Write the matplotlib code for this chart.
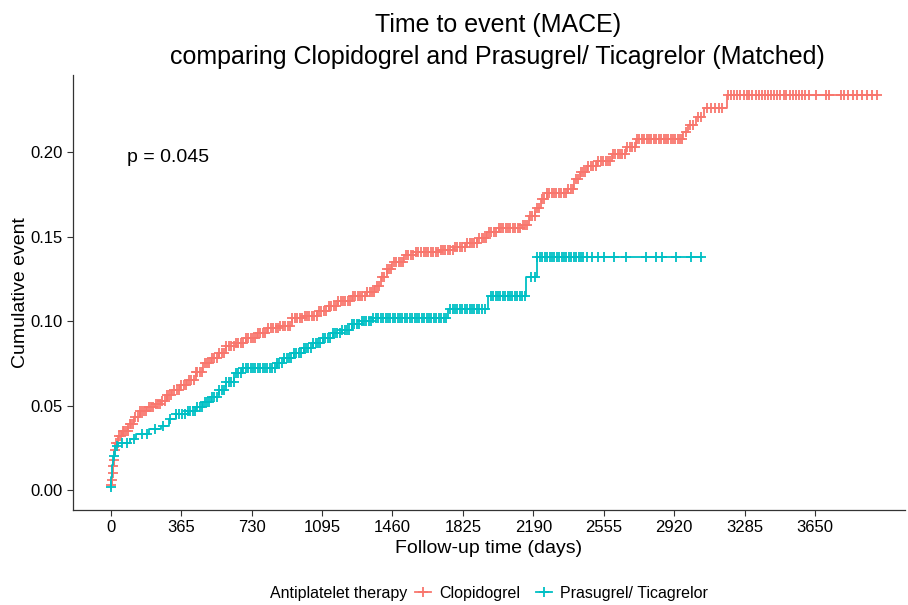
import numpy as np
import matplotlib
matplotlib.use('Agg')
import matplotlib.pyplot as plt
from matplotlib.lines import Line2D

plt.rcParams['font.family'] = ['Liberation Sans', 'DejaVu Sans']

### data (days, cumulative event)

clop_time = [0, 5, 8, 12, 16, 20, 25, 40, 60, 90, 120, 150, 190, 230, 260, 290, 320,
             360, 395, 440, 480, 520, 560, 600, 650, 700, 760, 810, 880, 940, 1000,
             1070, 1130, 1180, 1250, 1330, 1370, 1400, 1430, 1460, 1520, 1580, 1700,
             1780, 1840, 1900, 1950, 2010, 2130, 2170, 2200, 2230, 2260, 2370, 2400,
             2430, 2470, 2520, 2600, 2670, 2720, 2965, 2990, 3035, 3075, 3195, 3972]
clop_cum = [0.003, 0.006, 0.010, 0.014, 0.018, 0.024, 0.028, 0.032, 0.035, 0.039, 0.043,
            0.047, 0.049, 0.051, 0.053, 0.056, 0.059, 0.062, 0.065, 0.070, 0.075, 0.078,
            0.081, 0.085, 0.087, 0.090, 0.093, 0.096, 0.097, 0.102, 0.103, 0.106, 0.109,
            0.112, 0.115, 0.117, 0.121, 0.126, 0.131, 0.135, 0.139, 0.141, 0.142, 0.144,
            0.146, 0.149, 0.153, 0.155, 0.157, 0.162, 0.167, 0.172, 0.176, 0.178, 0.184,
            0.188, 0.192, 0.195, 0.199, 0.203, 0.208, 0.212, 0.216, 0.221, 0.226, 0.234,
            0.234]

prasu_time = [0, 4, 8, 12, 25, 40, 100, 130, 200, 260, 300, 340, 400, 440, 480, 520, 560,
              600, 640, 680, 860, 900, 950, 1000, 1050, 1100, 1150, 1200, 1250, 1300,
              1360, 1750, 1955, 2155, 2207, 3065]
prasu_cum = [0.002, 0.008, 0.015, 0.020, 0.026, 0.028, 0.030, 0.033, 0.036, 0.038, 0.042,
             0.045, 0.047, 0.049, 0.052, 0.055, 0.059, 0.064, 0.069, 0.072, 0.075, 0.078,
             0.081, 0.084, 0.087, 0.090, 0.093, 0.095, 0.098, 0.100, 0.102, 0.107, 0.115,
             0.126, 0.138, 0.138]

# censored times (+ marks)
clop_cens = [3, 7, 10, 14, 18, 24, 30, 37, 45, 53, 62, 70, 80, 89, 98, 106, 115, 128, 140,
             150, 160, 172, 185, 197, 210, 222, 235, 245, 255, 268, 280, 290, 300, 315, 330,
             342, 355, 367, 380, 392, 405, 417, 430, 440, 450, 462, 475, 487, 500, 512, 525,
             537, 550, 562, 575, 587, 600, 612, 625, 637, 650, 662, 675, 687, 700, 712, 725,
             737, 750, 762, 775, 787, 800, 815, 830, 842, 855, 867, 880, 892, 905, 917, 930,
             942, 955, 967, 980, 992, 1005, 1017, 1030, 1042, 1055, 1067, 1080, 1092, 1105,
             1117, 1130, 1142, 1155, 1167, 1180, 1192, 1205, 1217, 1230, 1242, 1255, 1267,
             1280, 1292, 1305, 1317, 1330, 1342, 1355, 1367, 1380, 1392, 1405, 1417, 1430,
             1442, 1455, 1467, 1480, 1492, 1505, 1517, 1530, 1542, 1555, 1567, 1580, 1595,
             1610, 1622, 1635, 1647, 1660, 1672, 1685, 1697, 1710, 1722, 1735, 1747, 1760,
             1772, 1785, 1797, 1810, 1822, 1835, 1847, 1860, 1872, 1885, 1897, 1910, 1922,
             1935, 1947, 1960, 1972, 1985, 1997, 2010, 2022, 2035, 2047, 2060, 2072, 2085,
             2097, 2110, 2122, 2135, 2147, 2160, 2172, 2185, 2197, 2210, 2222, 2235, 2247,
             2260, 2272, 2285, 2297, 2310, 2322, 2335, 2347, 2360, 2372, 2385, 2397, 2410,
             2422, 2435, 2447, 2460, 2475, 2490, 2502, 2515, 2527, 2540, 2552, 2565, 2577,
             2590, 2602, 2615, 2627, 2640, 2652, 2665, 2677, 2690, 2702, 2715, 2727, 2740,
             2752, 2765, 2777, 2790, 2802, 2815, 2827, 2840, 2852, 2865, 2877, 2890, 2902,
             2915, 2927, 2940, 2950, 2960, 2980, 3000, 3020, 3045, 3060, 3090, 3110, 3130,
             3150, 3170, 3200, 3215, 3232, 3248, 3262, 3280, 3296, 3310, 3325, 3342, 3360,
             3375, 3390, 3408, 3422, 3440, 3455, 3470, 3488, 3502, 3520, 3535, 3550, 3568,
             3582, 3600, 3620, 3655, 3707, 3724, 3784, 3800, 3820, 3845, 3870, 3895, 3920,
             3945, 3972]
prasu_cens = [2, 15, 35, 60, 85, 120, 160, 190, 230, 270, 310, 340, 355, 370, 385, 400, 412,
              425, 437, 450, 462, 475, 487, 500, 512, 525, 537, 550, 562, 575, 587, 600, 612,
              625, 637, 650, 662, 675, 687, 700, 712, 725, 737, 750, 762, 775, 787, 800, 812,
              825, 837, 850, 862, 875, 887, 900, 912, 925, 937, 950, 962, 975, 987, 1000,
              1012, 1025, 1037, 1050, 1062, 1075, 1087, 1100, 1112, 1125, 1137, 1150, 1162,
              1175, 1187, 1200, 1212, 1225, 1237, 1250, 1262, 1275, 1287, 1300, 1312, 1325,
              1337, 1350, 1362, 1375, 1387, 1400, 1412, 1425, 1437, 1450, 1462, 1475, 1487,
              1500, 1512, 1525, 1537, 1550, 1562, 1575, 1587, 1600, 1612, 1625, 1637, 1650,
              1662, 1675, 1687, 1700, 1712, 1725, 1740, 1760, 1772, 1785, 1797, 1810, 1822,
              1835, 1847, 1860, 1872, 1885, 1897, 1910, 1925, 1940, 1970, 1982, 1995, 2007,
              2020, 2032, 2045, 2057, 2070, 2082, 2095, 2107, 2120, 2132, 2145, 2180, 2200,
              2212, 2225, 2237, 2250, 2262, 2275, 2287, 2300, 2312, 2325, 2337, 2350, 2362,
              2375, 2387, 2400, 2412, 2425, 2437, 2450, 2470, 2492, 2525, 2559, 2611, 2672,
              2776, 2828, 2859, 2931, 3009, 3061]

groups = ['Clopidogrel', 'Prasugrel/ Ticagrelor']
colors = ['#F8766D', '#00BFC4']
xticks = [0, 365, 730, 1095, 1460, 1825, 2190, 2555, 2920, 3285, 3650]
yticks = [0.00, 0.05, 0.10, 0.15, 0.20]


def step_value(t, times, cum):
    idx = np.searchsorted(np.array(times), np.array(t), side='right') - 1
    return np.array(cum)[np.clip(idx, 0, len(cum) - 1)]


fig = plt.figure(figsize=(9.08, 6.05), dpi=100)
ax = fig.add_axes([0.0804, 0.157, 0.916, 0.719])

series = [(clop_time, clop_cum, clop_cens), (prasu_time, prasu_cum, prasu_cens)]
for (t, c, cens), col in zip(series, colors):
    ax.plot(t, c, drawstyle='steps-post', color=col, lw=1.3)
    ax.plot(cens, step_value(cens, t, c), ls='none', marker='+', ms=7.5, mew=1.3, color=col)

ax.text(84, 0.197, 'p = 0.045', fontsize=14, ha='left', va='center')

ax.set_xlim(-195, 4115)
ax.set_ylim(-0.0118, 0.2456)
ax.set_xticks(xticks)
ax.set_xticklabels([str(x) for x in xticks])
ax.set_yticks(yticks)
ax.set_yticklabels(['%.2f' % y for y in yticks])
ax.tick_params(labelsize=12, length=4, color='#333333', labelcolor='black')
for s in ['top', 'right']:
    ax.spines[s].set_visible(False)
for s in ['left', 'bottom']:
    ax.spines[s].set_color('#333333')
    ax.spines[s].set_linewidth(0.9)

ax.set_xlabel('Follow-up time (days)', fontsize=14, labelpad=3)
ax.set_ylabel('Cumulative event', fontsize=14, labelpad=1)

fig.suptitle('Time to event (MACE)\ncomparing Clopidogrel and Prasugrel/ Ticagrelor (Matched)',
             fontsize=18, y=0.978, x=0.548, linespacing=1.4)

handles = [Line2D([], [], color=col, lw=1.3, marker='+', ms=7.5, mew=1.3) for col in colors]
fig.text(0.297, 0.019, 'Antiplatelet therapy', fontsize=11.5, ha='left', va='center')
fig.legend(handles, groups, loc='center left', bbox_to_anchor=(0.457, 0.019), ncol=2,
           frameon=False, fontsize=11.5, handlelength=1.0, handletextpad=0.5, columnspacing=1.0,
           borderpad=0, borderaxespad=0)

fig.savefig('out.png', dpi=100)
